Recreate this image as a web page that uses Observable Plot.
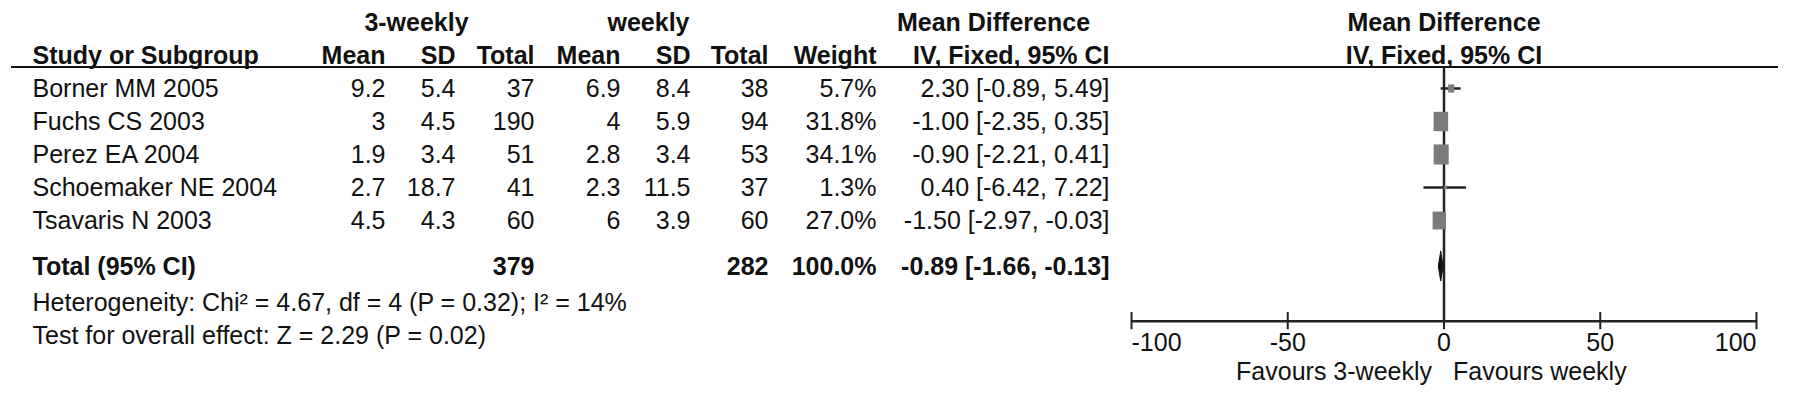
<!DOCTYPE html>
<html><head><meta charset="utf-8">
<script src="https://cdn.jsdelivr.net/npm/d3@7"></script>
<script src="https://cdn.jsdelivr.net/npm/@observablehq/plot@0.6"></script>
<style>html,body{margin:0;padding:0;background:#fff} svg{display:block}</style>
</head><body><div id="chart"></div>
<script>
// ---- data ----
const studies = ["Borner MM 2005","Fuchs CS 2003","Perez EA 2004","Schoemaker NE 2004","Tsavaris N 2003"];
const mean3w  = [9.2, 3, 1.9, 2.7, 4.5];
const sd3w    = [5.4, 4.5, 3.4, 18.7, 4.3];
const total3w = [37, 190, 51, 41, 60];
const meanW   = [6.9, 4, 2.8, 2.3, 6];
const sdW     = [8.4, 5.9, 3.4, 11.5, 3.9];
const totalW  = [38, 94, 53, 37, 60];
const weights = [5.7, 31.8, 34.1, 1.3, 27.0];
const md      = [2.30, -1.00, -0.90, 0.40, -1.50];
const ciLow   = [-0.89, -2.35, -2.21, -6.42, -2.97];
const ciHigh  = [5.49, 0.35, 0.41, 7.22, -0.03];
const pooledLabel = "Total (95% CI)";
const pooledN3w = 379, pooledNW = 282, pooledWeight = 100.0;
const pooledMD = -0.89, pooledLow = -1.66, pooledHigh = -0.13;
const heterogeneityText = "Heterogeneity: Chi² = 4.67, df = 4 (P = 0.32); I² = 14%";
const overallText = "Test for overall effect: Z = 2.29 (P = 0.02)";
const axisTicks = [-100, -50, 0, 50, 100];
const favoursLabels = ["Favours 3-weekly", "Favours weekly"];
const groupHeaders = ["3-weekly", "weekly"];
const colHeaders = ["Study or Subgroup","Mean","SD","Total","Mean","SD","Total","Weight","IV, Fixed, 95% CI"];
const mdHeader = ["Mean Difference", "IV, Fixed, 95% CI"];

// ---- layout (row units on the y scale, pixel columns) ----
const ROW = {group: 0, head: 1, underline: 1.35, first: 2, total: 7.4, het: 8.5, test: 9.5, axis: 9.05, tickLab: 9.7, fav: 10.6};
const LEFT = 11;
const COL = {study: 32, m3: 385, s3: 455, n3: 534, mw: 620, sw: 690, nw: 768, wt: 876, ci: 1109, g3: 416, gw: 648, mdHead: 993, mdSub: 1109};
const FS = 25;
const INK = "#111";

const fmt2 = v => v.toFixed(2);
const ciText = (m, l, h) => `${fmt2(m)} [${fmt2(l)}, ${fmt2(h)}]`;

const rows = studies.map((s, i) => ({
  study: s, row: ROW.first + i,
  m3: mean3w[i], s3: sd3w[i], n3: total3w[i],
  mw: meanW[i], sw: sdW[i], nw: totalW[i],
  wt: weights[i], md: md[i], lo: ciLow[i], hi: ciHigh[i]
}));
const pooled = [{study: pooledLabel, row: ROW.total, n3: pooledN3w, nw: pooledNW, wt: pooledWeight, md: pooledMD, lo: pooledLow, hi: pooledHigh}];
const diamond = [
  {y: ROW.total - 0.45, x1: pooledMD, x2: pooledMD},
  {y: ROW.total, x1: pooledLow, x2: pooledHigh},
  {y: ROW.total + 0.45, x1: pooledMD, x2: pooledMD}
];

const tallSquare = {draw(ctx, size) { const w = Math.sqrt(size * 0.75), h = size / w; ctx.rect(-w / 2, -h / 2, w, h); }};

function col(data, key, px, opts = {}) {
  return Plot.text(data, {y: "row", text: key, frameAnchor: "left", dx: px - LEFT, textAnchor: "end", fontSize: FS, fill: INK, ...opts});
}
function label(text, row, px, anchor, opts = {}) {
  return Plot.text([text], {y: () => row, text: d => d, frameAnchor: "left", dx: px - LEFT, textAnchor: anchor, fontSize: FS, fill: INK, ...opts});
}

const chart = Plot.plot({
  width: 1795, height: 405,
  marginLeft: LEFT, marginRight: 17, marginTop: 0, marginBottom: 0,
  x: {domain: [-100, 100], range: [1131, 1756], axis: null},
  y: {domain: [0, 10], range: [22, 352], axis: null},
  r: {domain: [0, d3.max(weights)], range: [0, 9.8]},
  style: {fontFamily: "'Liberation Sans', Arial, Helvetica, sans-serif", background: "#fff", overflow: "visible"},
  marks: [
    // header
    label(groupHeaders[0], ROW.group, COL.g3, "middle", {fontWeight: "bold"}),
    label(groupHeaders[1], ROW.group, COL.gw, "middle", {fontWeight: "bold"}),
    label(mdHeader[0], ROW.group, COL.mdHead, "middle", {fontWeight: "bold"}),
    label(colHeaders[0], ROW.head, COL.study, "start", {fontWeight: "bold"}),
    label(colHeaders[1], ROW.head, COL.m3, "end", {fontWeight: "bold"}),
    label(colHeaders[2], ROW.head, COL.s3, "end", {fontWeight: "bold"}),
    label(colHeaders[3], ROW.head, COL.n3, "end", {fontWeight: "bold"}),
    label(colHeaders[4], ROW.head, COL.mw, "end", {fontWeight: "bold"}),
    label(colHeaders[5], ROW.head, COL.sw, "end", {fontWeight: "bold"}),
    label(colHeaders[6], ROW.head, COL.nw, "end", {fontWeight: "bold"}),
    label(colHeaders[7], ROW.head, COL.wt, "end", {fontWeight: "bold"}),
    label(colHeaders[8], ROW.head, COL.mdSub, "end", {fontWeight: "bold"}),
    // forest-plot header, centred on the line of no effect
    Plot.text([mdHeader[0]], {x: () => 0, y: () => ROW.group, text: d => d, fontSize: FS, fontWeight: "bold", fill: INK}),
    Plot.text([mdHeader[1]], {x: () => 0, y: () => ROW.head, text: d => d, fontSize: FS, fontWeight: "bold", fill: INK}),
    Plot.ruleY([ROW.underline], {stroke: INK, strokeWidth: 2}),
    // study rows
    col(rows, "study", COL.study, {textAnchor: "start"}),
    col(rows, d => String(d.m3), COL.m3),
    col(rows, d => String(d.s3), COL.s3),
    col(rows, d => String(d.n3), COL.n3),
    col(rows, d => String(d.mw), COL.mw),
    col(rows, d => String(d.sw), COL.sw),
    col(rows, d => String(d.nw), COL.nw),
    col(rows, d => d.wt.toFixed(1) + "%", COL.wt),
    col(rows, d => ciText(d.md, d.lo, d.hi), COL.ci),
    // pooled row
    col(pooled, "study", COL.study, {textAnchor: "start", fontWeight: "bold"}),
    col(pooled, d => String(d.n3), COL.n3, {fontWeight: "bold"}),
    col(pooled, d => String(d.nw), COL.nw, {fontWeight: "bold"}),
    col(pooled, d => d.wt.toFixed(1) + "%", COL.wt, {fontWeight: "bold"}),
    col(pooled, d => ciText(d.md, d.lo, d.hi), COL.ci, {fontWeight: "bold"}),
    // footnotes
    label(heterogeneityText, ROW.het, COL.study, "start"),
    label(overallText, ROW.test, COL.study, "start"),
    // forest plot
    Plot.ruleX([0], {y1: ROW.underline, y2: ROW.axis, stroke: "#222", strokeWidth: 2.5}),
    Plot.ruleY(rows, {y: "row", x1: "lo", x2: "hi", stroke: "#222", strokeWidth: 2.5}),
    Plot.dot(rows, {x: "md", y: "row", r: "wt", symbol: tallSquare, fill: "#7b7b7b", stroke: "none"}),
    Plot.areaX(diamond, {y: "y", x1: "x1", x2: "x2", fill: INK, stroke: INK, strokeWidth: 1}),
    // axis
    Plot.ruleY([ROW.axis], {x1: axisTicks[0], x2: axisTicks[axisTicks.length - 1], stroke: "#222", strokeWidth: 2.5}),
    Plot.ruleX(axisTicks, {x: d => d, y1: ROW.axis - 0.26, y2: ROW.axis + 0.26, stroke: "#222", strokeWidth: 2}),
    Plot.text(axisTicks.slice(0, 1), {x: d => d, y: () => ROW.tickLab, text: d => String(d), textAnchor: "start", fontSize: FS, fill: INK}),
    Plot.text(axisTicks.slice(1, -1), {x: d => d, y: () => ROW.tickLab, text: d => String(d), textAnchor: "middle", fontSize: FS, fill: INK}),
    Plot.text(axisTicks.slice(-1), {x: d => d, y: () => ROW.tickLab, text: d => String(d), textAnchor: "end", fontSize: FS, fill: INK}),
    Plot.text([favoursLabels[0]], {x: () => 0, y: () => ROW.fav, text: d => d, textAnchor: "end", dx: -12, fontSize: FS, fill: INK}),
    Plot.text([favoursLabels[1]], {x: () => 0, y: () => ROW.fav, text: d => d, textAnchor: "start", dx: 9, fontSize: FS, fill: INK})
  ]
});
document.getElementById("chart").appendChild(chart);
</script>
</body></html>
